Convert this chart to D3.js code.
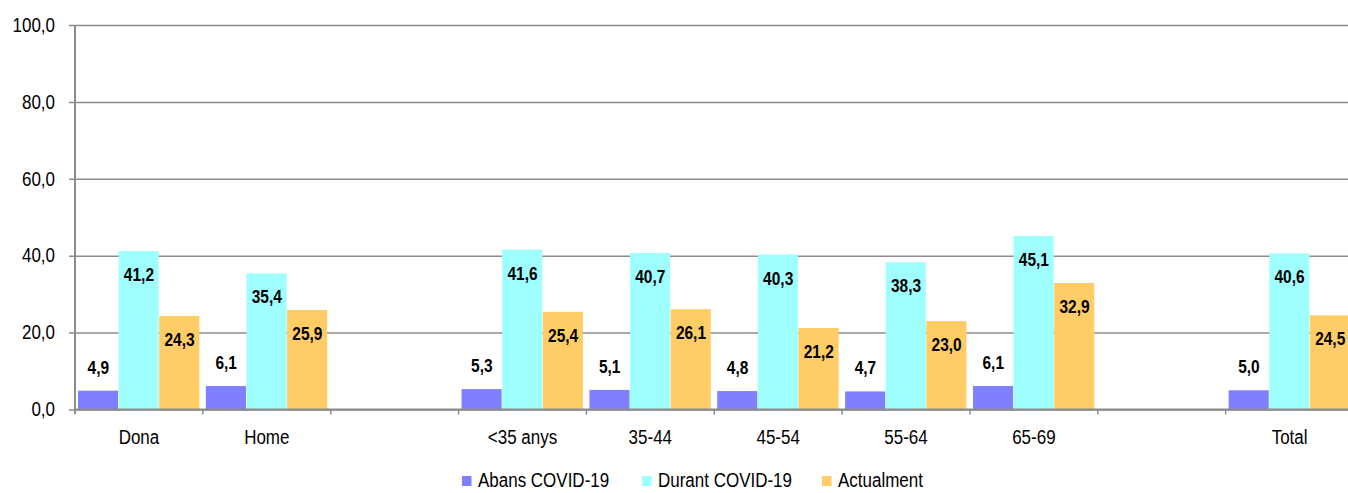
<!DOCTYPE html>
<html>
<head>
<meta charset="utf-8">
<script src="https://cdn.jsdelivr.net/npm/d3@7"></script>
<style>
  body { margin: 0; background: #fff; }
  svg { display: block; font-family: 'Liberation Sans', Arial, sans-serif; }
</style>
</head>
<body>
<svg id="chart"></svg>
<script>
// categories (blank entries = empty slots between groups)
const categories = ['Dona', 'Home', ' ', '<35 anys', '35-44', '45-54', '55-64', '65-69', '  ', 'Total']
const seriesNames = ['Abans COVID-19', 'Durant COVID-19', 'Actualment']
const abans = [4.9, 6.1, null, 5.3, 5.1, 4.8, 4.7, 6.1, null, 5.0]
const durant = [41.2, 35.4, null, 41.6, 40.7, 40.3, 38.3, 45.1, null, 40.6]
const actualment = [24.3, 25.9, null, 25.4, 26.1, 21.2, 23.0, 32.9, null, 24.5]
const yTicks = [0, 20, 40, 60, 80, 100]
const colors = ['#8080FF', '#9FFFFF', '#FFCC66']

const width = 1348
const height = 493
const margin = { top: 25, left: 75, bottom: 83 }
const stretch = 'scale(1,1.15)'

const svg = d3.select('#chart').attr('width', width).attr('height', height)

const values = [abans, durant, actualment]
const data = categories.map((c, i) => ({
  cat: c,
  vals: seriesNames.map((s, j) => ({ series: s, value: values[j][i], color: colors[j] }))
}))

/// scales ////
const xScale = d3.scaleBand().domain(categories).range([margin.left, 1353.5]).padding(0)
const xInner = d3.scaleBand().domain(seriesNames).range([3, xScale.bandwidth() - 3]).padding(0)
const yScale = d3.scaleLinear().domain([0, 100]).range([height - margin.bottom - 0.5, margin.top])

const commaFormat = v => d3.format('.1f')(v).replace('.', ',')

// gridlines + y axis
const yAxis = svg.append('g')
  .attr('class', 'axis y-axis')
  .attr('transform', 'translate(' + margin.left + ',0)')
  .call(d3.axisLeft(yScale)
    .tickValues(yTicks)
    .tickSizeInner(-(width - margin.left))
    .tickSizeOuter(0)
    .tickPadding(20)
    .tickFormat(commaFormat))
yAxis.select('.domain').remove()
yAxis.selectAll('.tick line')
  .attr('x1', -6)
  .attr('stroke', '#8c8c8c')
  .attr('stroke-width', 1.5)
yAxis.selectAll('.tick text')
  .attr('font-size', 17)
  .attr('fill', '#000')
  .attr('font-family', "'Liberation Sans', Arial, sans-serif")
  .attr('transform', stretch)

// bars
const groups = svg.append('g')
  .selectAll('g')
  .data(data)
  .join('g')
  .attr('transform', d => 'translate(' + xScale(d.cat) + ',0)')

groups.selectAll('rect')
  .data(d => d.vals.filter(v => v.value != null))
  .join('rect')
  .attr('x', d => xInner(d.series))
  .attr('width', xInner.bandwidth() - 0.5)
  .attr('y', d => yScale(d.value))
  .attr('height', d => yScale(0) - yScale(d.value))
  .attr('fill', d => d.color)

groups.selectAll('text')
  .data(d => d.vals.filter(v => v.value != null))
  .join('text')
  .attr('transform', d => {
    const top = yScale(d.value)
    const y = yScale(0) - top > 40 ? top + 30 : top - 17
    return 'translate(' + (xInner(d.series) + xInner.bandwidth() / 2) + ',' + y + ') ' + stretch
  })
  .attr('text-anchor', 'middle')
  .attr('font-size', 15.5)
  .attr('font-weight', 'bold')
  .attr('fill', '#000')
  .text(d => commaFormat(d.value))

// x axis
const xAxisG = svg.append('g').attr('class', 'axis x-axis')
const bottom = yScale(0)
xAxisG.append('line')
  .attr('x1', margin.left).attr('x2', width)
  .attr('y1', bottom).attr('y2', bottom)
  .attr('stroke', '#8c8c8c').attr('stroke-width', 2)
xAxisG.append('line')
  .attr('x1', margin.left).attr('x2', margin.left)
  .attr('y1', margin.top).attr('y2', bottom + 4)
  .attr('stroke', '#8c8c8c').attr('stroke-width', 2)
xAxisG.selectAll('.xtick')
  .data(categories)
  .join('line')
  .attr('class', 'xtick')
  .attr('x1', d => xScale(d)).attr('x2', d => xScale(d))
  .attr('y1', bottom).attr('y2', bottom + 5)
  .attr('stroke', '#8c8c8c').attr('stroke-width', 1.5)
xAxisG.selectAll('.xlabel')
  .data(categories)
  .join('text')
  .attr('class', 'xlabel')
  .attr('transform', d => 'translate(' + (xScale(d) + xScale.bandwidth() / 2) + ',444) ' + stretch)
  .attr('text-anchor', 'middle')
  .attr('font-size', 17)
  .attr('fill', '#000')
  .text(d => d.trim())

// legend
const legendX = [462, 642, 822]
const legend = svg.append('g').attr('class', 'legend')
  .selectAll('g')
  .data(seriesNames)
  .join('g')
  .attr('transform', (d, i) => 'translate(' + legendX[i] + ',476)')
legend.append('rect')
  .attr('width', 9.5).attr('height', 10)
  .attr('fill', (d, i) => colors[i])
legend.append('text')
  .attr('transform', 'translate(16,11) ' + stretch)
  .attr('font-size', 17)
  .attr('fill', '#000')
  .text(d => d)
</script>
</body>
</html>
